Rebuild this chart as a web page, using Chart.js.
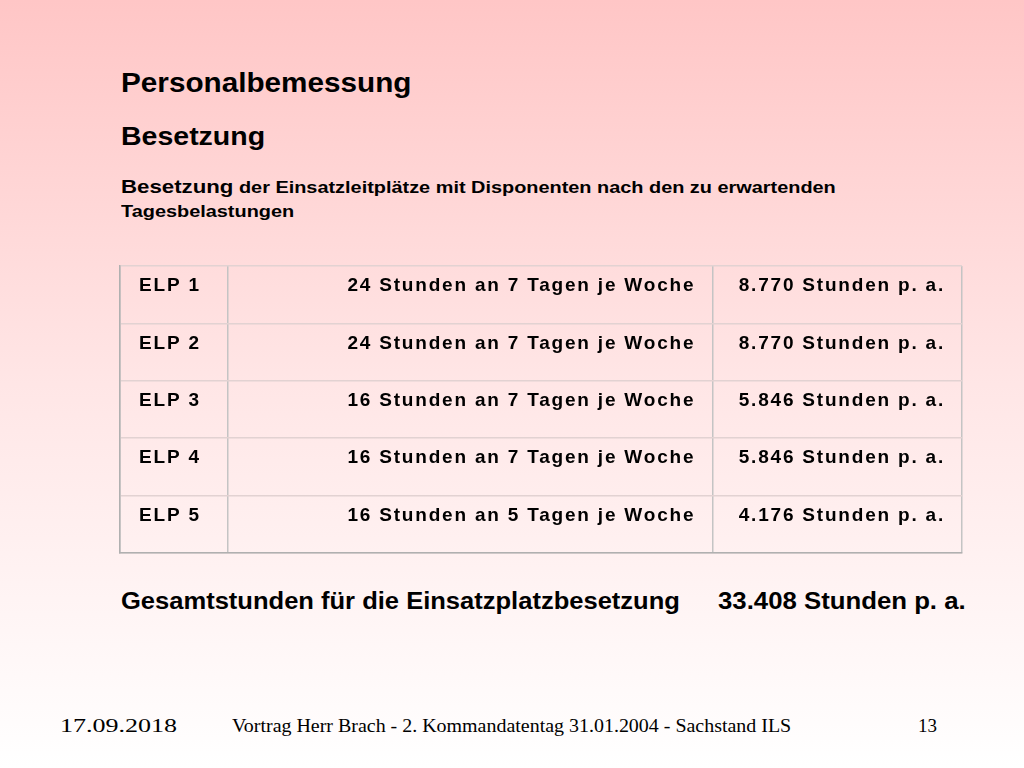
<!DOCTYPE html>
<html>
<head>
<meta charset="utf-8">
<script src="https://cdn.jsdelivr.net/npm/chart.js@4"></script>
<style>
  html, body { margin: 0; padding: 0; }
  body {
    width: 1024px; height: 768px; position: relative; overflow: hidden;
    background: linear-gradient(to bottom, #ffc6c6 0%, #ffe6e6 50%, #ffffff 100%);
    font-family: "Liberation Sans", Arial, sans-serif; color: #000;
  }
  .t { position: absolute; white-space: nowrap; transform-origin: left center; }
  .b { font-weight: bold; }
  .foot { font-family: "Liberation Serif", "Times New Roman", serif; font-size: 19px; top: 715px; }
  #wrap { position: absolute; left: 119px; top: 265px; width: 844px; height: 289px; }
</style>
</head>
<body>
<div class="t b" style="left:121px;top:68px;font-size:27px;transform:scaleX(1.10)">Personalbemessung</div>
<div class="t b" style="left:121px;top:122px;font-size:25px;transform:scaleX(1.14)">Besetzung</div>
<div class="t" style="left:121px;top:176px;font-size:17px;transform:scaleX(1.17)"><span class="b" style="font-size:19px">Besetzung</span> <b>der Einsatzleitplätze mit Disponenten nach den zu erwartenden</b></div>
<div class="t b" style="left:121px;top:202px;font-size:17px;transform:scaleX(1.17)">Tagesbelastungen</div>

<div id="wrap"><canvas id="c" width="844" height="289"></canvas></div>

<div class="t b" style="left:121px;top:588px;font-size:23px;transform:scaleX(1.11)">Gesamtstunden für die Einsatzplatzbesetzung</div>
<div class="t b" style="left:718px;top:588px;font-size:23px;transform:scaleX(1.12)">33.408 Stunden p. a.</div>

<div class="t foot" style="left:60px;transform:scaleX(1.37)">17.09.2018</div>
<div class="t foot" style="left:232px;transform:scaleX(1.05)">Vortrag Herr Brach - 2. Kommandatentag 31.01.2004 - Sachstand ILS</div>
<div class="t foot" style="left:918px">13</div>

<script>
// table content
const rowLabels = ['ELP 1', 'ELP 2', 'ELP 3', 'ELP 4', 'ELP 5']
const shiftText = [
  '24 Stunden an 7 Tagen je Woche',
  '24 Stunden an 7 Tagen je Woche',
  '16 Stunden an 7 Tagen je Woche',
  '16 Stunden an 7 Tagen je Woche',
  '16 Stunden an 5 Tagen je Woche'
]
const annualText = [
  '8.770 Stunden p. a.',
  '8.770 Stunden p. a.',
  '5.846 Stunden p. a.',
  '5.846 Stunden p. a.',
  '4.176 Stunden p. a.'
]
// column borders on the x scale
const colEdges = [0, 108, 593, 843]

// Draws the cell texts using the chart scales
const cellText = {
  id: 'cellText',
  afterDraw(chart) {
    const ctx = chart.ctx
    const x = chart.scales.x
    const y = chart.scales.y
    ctx.save()
    ctx.font = 'bold 19px "Liberation Sans", Arial, sans-serif'
    ctx.letterSpacing = '1.8px'
    ctx.fillStyle = '#000'
    ctx.textBaseline = 'middle'
    rowLabels.forEach((label, i) => {
      const ty = y.getPixelForValue(i) + 20
      ctx.textAlign = 'left'
      ctx.fillText(label, x.getPixelForValue(colEdges[0]) + 19, ty)
      ctx.textAlign = 'right'
      ctx.fillText(shiftText[i], x.getPixelForValue(colEdges[2]) - 17, ty)
      ctx.fillText(annualText[i], x.getPixelForValue(colEdges[3]) - 17, ty)
    })
    ctx.restore()
  }
}

new Chart(document.getElementById('c').getContext('2d'), {
  type: 'scatter',
  data: { datasets: [{ data: [] }] },
  options: {
    responsive: false,
    animation: false,
    layout: { padding: 1 },
    plugins: { legend: { display: false }, tooltip: { enabled: false } },
    scales: {
      x: {
        type: 'linear', min: 0, max: 843,
        afterBuildTicks: s => { s.ticks = colEdges.map(v => ({ value: v })) },
        ticks: { display: false },
        grid: { color: '#c4c4c4', lineWidth: 1.5, drawTicks: false },
        border: { color: '#b0b0b0', width: 1.5 }
      },
      y: {
        type: 'linear', min: 0, max: rowLabels.length, reverse: true,
        ticks: { display: false, stepSize: 1 },
        grid: { color: '#e2d2d2', lineWidth: 1.5, drawTicks: false },
        border: { color: '#b0b0b0', width: 1.5 }
      }
    }
  },
  plugins: [cellText]
})
</script>
</body>
</html>
